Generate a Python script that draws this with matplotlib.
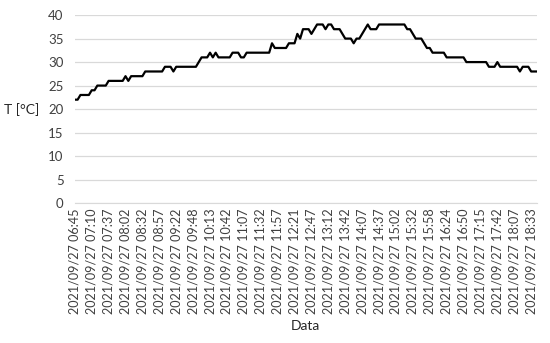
import matplotlib
matplotlib.use("Agg")
import matplotlib.pyplot as plt

# temperature readings (one every few minutes)
temps = [22, 22, 23, 23, 23, 23, 24, 24, 25, 25, 25, 25, 26, 26, 26, 26, 26, 26, 27, 26,
         27, 27, 27, 27, 27, 28, 28, 28, 28, 28, 28, 28, 29, 29, 29, 28, 29, 29, 29, 29,
         29, 29, 29, 29, 30, 31, 31, 31, 32, 31, 32, 31, 31, 31, 31, 31, 32, 32, 32, 31,
         31, 32, 32, 32, 32, 32, 32, 32, 32, 32, 34, 33, 33, 33, 33, 33, 34, 34, 34, 36,
         35, 37, 37, 37, 36, 37, 38, 38, 38, 37, 38, 38, 37, 37, 37, 36, 35, 35, 35, 34,
         35, 35, 36, 37, 38, 37, 37, 37, 38, 38, 38, 38, 38, 38, 38, 38, 38, 38, 37, 37,
         36, 35, 35, 35, 34, 33, 33, 32, 32, 32, 32, 32, 31, 31, 31, 31, 31, 31, 31, 30,
         30, 30, 30, 30, 30, 30, 30, 29, 29, 29, 30, 29, 29, 29, 29, 29, 29, 29, 28, 29,
         29, 29, 28, 28, 28]

tick_labels = ["06:45", "07:10", "07:37", "08:02", "08:32", "08:57", "09:22", "09:48",
               "10:13", "10:42", "11:07", "11:32", "11:57", "12:21", "12:47", "13:12",
               "13:42", "14:07", "14:37", "15:02", "15:32", "15:58", "16:24", "16:50",
               "17:15", "17:42", "18:07", "18:33"]
label_step = 6

plt.rcParams['font.family'] = ['Lato', 'DejaVu Sans']

fig = plt.figure(figsize=(5.5, 3.43), dpi=100)
ax = fig.add_axes([0.136, 0.408, 0.840, 0.548])

x = list(range(len(temps)))
ax.plot(x, temps, color='black', lw=1.6, solid_joinstyle='round')

ax.set_xlim(0, len(temps) - 1)
ax.set_ylim(0, 40)
ax.set_yticks(range(0, 41, 5))
ax.set_xticks(x[::label_step][:len(tick_labels)])
ax.set_xticklabels(["2021/09/27 " + t for t in tick_labels], rotation=90)

ax.grid(axis='y', color='#d9d9d9', lw=0.9)
ax.set_axisbelow(True)
for s in ['top', 'right', 'left']:
    ax.spines[s].set_visible(False)
ax.spines['bottom'].set_color('#d9d9d9')
ax.tick_params(axis='y', length=0, labelsize=9.5, colors='#404040', pad=8)
ax.tick_params(axis='x', length=0, labelsize=9.1, colors='#404040', pad=4)

ax.set_ylabel('T [°C]', rotation=0, fontsize=10, color='#262626', va='center', ha='center')
ax.yaxis.set_label_coords(-0.115, 0.495)
ax.set_xlabel('Data', fontsize=10, color='#262626', va='center')
ax.xaxis.set_label_coords(0.498, -0.655)

fig.savefig('out.png', dpi=100)
